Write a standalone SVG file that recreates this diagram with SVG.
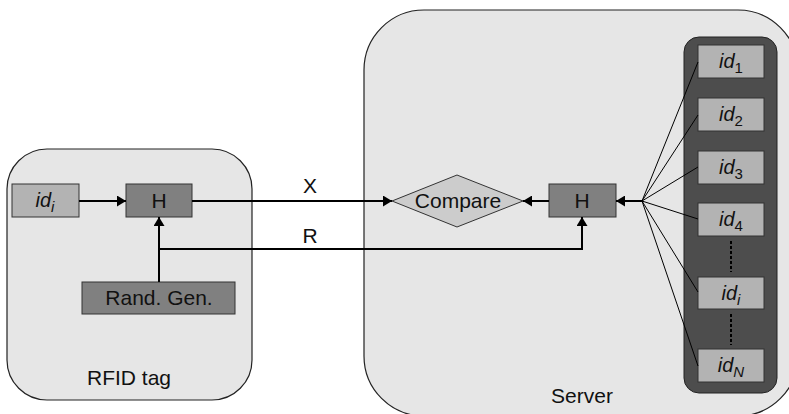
<svg xmlns="http://www.w3.org/2000/svg" width="789" height="414" viewBox="0 0 789 414">
<defs>
<marker id="ah" markerWidth="10" markerHeight="11" refX="9" refY="5.5" orient="auto" markerUnits="userSpaceOnUse">
<path d="M0,0 L9,5.5 L0,11 Z" fill="#000"/>
</marker>
<style>
text{font-family:"Liberation Sans",Arial,sans-serif;fill:#111}
.lbl{font-size:21px;text-anchor:middle}
.id{font-size:20px;font-style:italic;text-anchor:middle}
.sub{font-size:15px}
.num{font-style:normal}
.cont{fill:#e6e6e6;stroke:#222;stroke-width:1.2}
.lite{fill:#b3b3b3;stroke:#333;stroke-width:1}
.dark{fill:#808080;stroke:#333;stroke-width:1}
.wire{fill:none;stroke:#000;stroke-width:2}
.fan{fill:none;stroke:#000;stroke-width:1}
</style>
</defs>
<rect width="789" height="414" fill="#fff"/>
<g id="rfid-tag">
<rect class="cont" x="7" y="149" width="245" height="251" rx="40"/>
<text class="lbl" x="129" y="385">RFID tag</text>
</g>
<g id="server">
<rect class="cont" x="364" y="10" width="434" height="406" rx="60"/>
<text class="lbl" x="582" y="403">Server</text>
</g>
<g id="id-database">
<rect x="684" y="37" width="93" height="356" rx="15" fill="#4d4d4d" stroke="#222" stroke-width="1"/>
</g>
<g id="tag-idi">
<rect class="lite" x="12" y="184" width="67" height="33"/>
<text class="id" x="45" y="207">id<tspan class="sub" dy="5">i</tspan></text>
</g>
<g id="tag-h">
<rect class="dark" x="126" y="184" width="66" height="33"/>
<text class="lbl" x="159" y="208">H</text>
</g>
<g id="rand-gen">
<rect class="dark" x="82" y="282" width="153" height="32"/>
<text class="lbl" x="159" y="305">Rand. Gen.</text>
</g>
<g id="compare">
<polygon points="392,201 457,175 523,201 457,227" fill="#cccccc" stroke="#333" stroke-width="1"/>
<text class="lbl" x="458" y="208">Compare</text>
</g>
<g id="server-h">
<rect class="dark" x="549" y="184" width="67" height="33"/>
<text class="lbl" x="582" y="208">H</text>
</g>
<g id="id1">
<rect class="lite" x="698" y="45" width="66" height="33"/>
<text class="id" x="731" y="68">id<tspan class="sub num" dy="5">1</tspan></text>
</g>
<g id="id2">
<rect class="lite" x="698" y="98" width="66" height="33"/>
<text class="id" x="731" y="121">id<tspan class="sub num" dy="5">2</tspan></text>
</g>
<g id="id3">
<rect class="lite" x="698" y="151" width="66" height="33"/>
<text class="id" x="731" y="174">id<tspan class="sub num" dy="5">3</tspan></text>
</g>
<g id="id4">
<rect class="lite" x="698" y="203" width="66" height="33"/>
<text class="id" x="731" y="226">id<tspan class="sub num" dy="5">4</tspan></text>
</g>
<g id="idi">
<rect class="lite" x="698" y="277" width="66" height="32"/>
<text class="id" x="731" y="300">id<tspan class="sub" dy="5">i</tspan></text>
</g>
<g id="idN">
<rect class="lite" x="698" y="349" width="66" height="33"/>
<text class="id" x="731" y="372">id<tspan class="sub" dy="5">N</tspan></text>
</g>
<g id="connectors">
<line class="wire" x1="79" y1="201" x2="126" y2="201" marker-end="url(#ah)"/>
<line class="wire" x1="159" y1="282" x2="159" y2="217" marker-end="url(#ah)"/>
<line class="wire" x1="192" y1="201" x2="392" y2="201" marker-end="url(#ah)"/>
<polyline class="wire" points="159,249 582,249 582,217" marker-end="url(#ah)"/>
<line class="wire" x1="549" y1="201" x2="523" y2="201" marker-end="url(#ah)"/>
<line class="wire" x1="642" y1="201" x2="616" y2="201" marker-end="url(#ah)"/>
<text class="lbl" x="310" y="193">X</text>
<text class="lbl" x="310" y="243">R</text>
<g class="fan">
<line x1="642" y1="201" x2="698" y2="62"/>
<line x1="642" y1="201" x2="698" y2="115"/>
<line x1="642" y1="201" x2="698" y2="167"/>
<line x1="642" y1="201" x2="698" y2="219"/>
<line x1="642" y1="201" x2="698" y2="292"/>
<line x1="642" y1="201" x2="698" y2="366"/>
</g>
<line x1="731" y1="241" x2="731" y2="272" stroke="#000" stroke-width="2" stroke-dasharray="3,2"/>
<line x1="731" y1="314" x2="731" y2="345" stroke="#000" stroke-width="2" stroke-dasharray="3,2"/>
</g>
</svg>
